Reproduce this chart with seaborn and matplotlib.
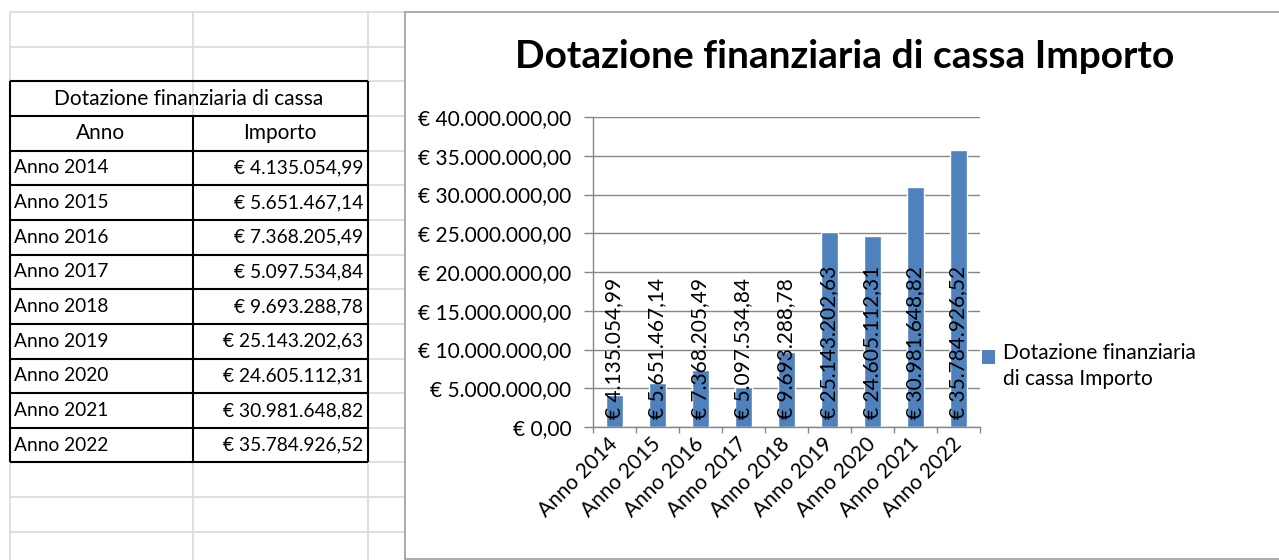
import matplotlib
matplotlib.use("Agg")
import matplotlib.pyplot as plt
import matplotlib.ticker as mticker
from matplotlib.patches import Rectangle
import seaborn as sns
import pandas as pd

# --- DATA ---
anni = ["Anno 2014", "Anno 2015", "Anno 2016", "Anno 2017", "Anno 2018",
        "Anno 2019", "Anno 2020", "Anno 2021", "Anno 2022"]
importi = [4135054.99, 5651467.14, 7368205.49, 5097534.84, 9693288.78,
           25143202.63, 24605112.31, 30981648.82, 35784926.52]
table_title = "Dotazione finanziaria di cassa"
col_headers = ["Anno", "Importo"]
chart_title = "Dotazione finanziaria di cassa Importo"
series_label = "Dotazione finanziaria\ndi cassa Importo"
y_ticks = [0, 5e6, 10e6, 15e6, 20e6, 25e6, 30e6, 35e6, 40e6]

BAR_COLOR = "#4F81BD"
AXIS_GREY = "#868686"
CELL_GREY = "#D9D9D9"
W, H = 1279, 560
FS = 15  # chart text size


def euro(v):
    s = f"{v:,.2f}".replace(",", "X").replace(".", ",").replace("X", ".")
    return "€ " + s


sns.set_style("white")
plt.rcParams['font.family'] = ['Lato', 'DejaVu Sans']
plt.rcParams['text.color'] = 'black'
plt.rcParams['xtick.color'] = 'black'
plt.rcParams['ytick.color'] = 'black'

fig = plt.figure(figsize=(W / 100, H / 100), dpi=100)

# ==========================================
# 1. SPREADSHEET BACKGROUND + TABLE
# ==========================================
bg = fig.add_axes([0, 0, 1, 1])
bg.set_xlim(0, W)
bg.set_ylim(H, 0)
bg.axis("off")

col_x = [10, 193, 368, 405]
rows = [12 + 34.65 * k for k in range(17)]
bg.vlines(col_x, 12, H, color=CELL_GREY, lw=1.2)
bg.hlines(rows, 10, 405, color=CELL_GREY, lw=1.2)

# table borders (title row 2-3, header 3-4, data 4-13)
top, bottom = rows[2], rows[13]
bg.hlines(rows[2:14], 10, 368, color="black", lw=1.5)
bg.vlines([10, 368], top, bottom, color="black", lw=1.5)
bg.vlines(193, rows[3], bottom, color="black", lw=1.5)

bg.text(189, (rows[2] + rows[3]) / 2, table_title, ha="center", va="center", fontsize=15)
bg.text(101, (rows[3] + rows[4]) / 2, col_headers[0], ha="center", va="center", fontsize=15)
bg.text(280, (rows[3] + rows[4]) / 2, col_headers[1], ha="center", va="center", fontsize=15)
for i, (a, v) in enumerate(zip(anni, importi)):
    yc = (rows[4 + i] + rows[5 + i]) / 2
    bg.text(14, yc, a, ha="left", va="center", fontsize=13.8)
    bg.text(363, yc, euro(v), ha="right", va="center", fontsize=13.8)

# chart frame
bg.add_patch(Rectangle((405, 12), W + 20 - 405, 547, facecolor="white",
                       edgecolor="#A6A6A6", lw=1.3, zorder=5))

# legend (square aligned with the first label line, as in the sheet)
bg.add_patch(Rectangle((982, 350), 13, 14, facecolor=BAR_COLOR, lw=0, zorder=6))
bg.text(1003, 343, series_label, ha="left", va="top", fontsize=FS,
        linespacing=1.4, zorder=6)

# ==========================================
# 2. BAR CHART
# ==========================================
ax = fig.add_axes([593 / W, 1 - 427 / H, (980 - 593) / W, (427 - 117) / H])
ax.patch.set_alpha(0)

df = pd.DataFrame({"Anno": anni, "Importo": importi})
sns.barplot(data=df, x="Anno", y="Importo", color=BAR_COLOR, width=0.4,
            saturation=1, ax=ax)

ax.set_xlim(-0.5, len(anni) - 0.5)
ax.set_ylim(0, 40e6)
ax.set_yticks(y_ticks)
ax.yaxis.set_major_formatter(mticker.FuncFormatter(lambda v, p: euro(v)))
ax.grid(axis="y", color=AXIS_GREY, lw=1.0)
ax.set_axisbelow(True)
ax.set_xlabel("")
ax.set_ylabel("")

for side in ["top", "right"]:
    ax.spines[side].set_visible(False)
for side in ["left", "bottom"]:
    ax.spines[side].set_color(AXIS_GREY)
    ax.spines[side].set_linewidth(1.0)

ax.tick_params(axis="y", length=6.5, width=1, color=AXIS_GREY, pad=9,
               labelsize=FS, direction="out", left=True)
ax.set_xticks([i - 0.5 for i in range(len(anni) + 1)], minor=True)
ax.tick_params(axis="x", which="minor", length=4.5, width=1, color=AXIS_GREY,
               direction="out", bottom=True)
ax.tick_params(axis="x", which="major", length=0, pad=10, labelsize=FS)
plt.setp(ax.get_xticklabels(), rotation=45, ha="right", va="center",
         rotation_mode="anchor")

for i, v in enumerate(importi):
    ax.annotate(euro(v), (i, 0), xytext=(0, 6), textcoords="offset points",
                rotation=90, ha="center", va="bottom", fontsize=FS)

fig.text(845 / W, 1 - 68 / H, chart_title, ha="center", va="baseline",
         fontsize=28, fontweight="bold")

fig.savefig("out.png", dpi=100)
